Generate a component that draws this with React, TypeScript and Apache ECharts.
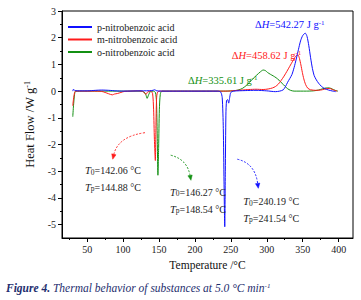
import { useEffect, useRef } from 'react';
import * as echarts from 'echarts';

type Pt = [number, number];

const FONT = 'Liberation Serif, Times New Roman, serif';

const seriesNames = ['p-nitrobenzoic acid', 'm-nitrobenzoic acid', 'o-nitrobenzoic acid'];
const seriesColors = ['#1010ff', '#ff1a1a', '#139013'];

// Temperature (°C), heat flow (W/g)
const pNitro: Pt[] = [
  [30, 0.0], [31, 0.07], [32.5, 0.03], [36, 0.01], [50, 0.01], [62, 0.03], [70, 0.04], [80, 0.03],
  [90, 0.01], [100, 0.0], [125, 0.01], [140, 0.02], [144, 0.05], [147, 0.01], [160, 0.0], [200, 0.0],
  [232, 0.0], [236, -0.04], [238, -0.25], [239.5, -1.4], [240.5, -3.4], [241.5, -5.08], [242.3, -3.0],
  [243.1, -0.9], [244, -0.35], [245.5, -0.32], [247, -0.45], [248.5, -0.22], [250, -0.05], [254, 0.0],
  [270, 0.02], [285, 0.03], [300, 0.01], [312, -0.02], [318, 0.0], [323, 0.05], [326, 0.17], [329, 0.33],
  [332, 0.47], [335, 0.62], [338, 0.88], [341, 1.2], [344, 1.55], [347, 1.88], [350, 2.08], [353.5, 2.17],
  [356, 2.05], [358.5, 1.7], [361, 1.25], [363.5, 0.85], [366, 0.58], [369, 0.42], [372, 0.3], [376, 0.18],
  [380, 0.1], [386, 0.04], [392, 0.0], [396, -0.02],
];

const mNitro: Pt[] = [
  [30, -0.55], [31, -0.3], [32.5, -0.06], [34, 0.0], [45, 0.0], [60, 0.0], [70, -0.01], [75, -0.05],
  [80, -0.1], [85, -0.14], [88, -0.11], [92, -0.09], [97, -0.05], [102, -0.01], [110, 0.0], [120, 0.01],
  [127, -0.01], [130, -0.08], [132, -0.12], [134, -0.04], [138, 0.0], [141, -0.08], [142.5, -0.7],
  [143.6, -1.8], [144.9, -2.6], [145.7, -1.4], [146.6, -0.3], [148, -0.04], [152, 0.0], [200, 0.0],
  [245, 0.0], [255, 0.02], [265, 0.04], [275, 0.06], [285, 0.07], [295, 0.06], [302, 0.08], [308, 0.12],
  [312, 0.17], [316, 0.26], [320, 0.4], [324, 0.56], [328, 0.74], [332, 0.93], [336, 1.12], [339, 1.26],
  [341.5, 1.34], [343.5, 1.35], [345.5, 1.22], [347.5, 0.98], [349.5, 0.7], [351.5, 0.46], [354, 0.25],
  [357, 0.11], [361, 0.05], [368, 0.03], [375, 0.04], [380, 0.07], [385, 0.1], [389, 0.09], [393, 0.04],
  [398, 0.0],
];

const oNitro: Pt[] = [
  [30, -0.96], [31, -0.55], [32.5, -0.12], [34, 0.0], [60, 0.0], [100, 0.0], [125, 0.0], [129, -0.03],
  [131.5, -0.12], [133.5, -0.27], [135.5, -0.14], [138, -0.02], [142, 0.0], [145, -0.05], [146.5, -0.4],
  [147.5, -1.6], [148.5, -3.15], [149.5, -2.1], [150.5, -0.7], [151.8, -0.12], [154, 0.0], [200, 0.0],
  [240, 0.0], [252, 0.01], [260, 0.04], [266, 0.1], [271, 0.2], [276, 0.33], [281, 0.47], [286, 0.6],
  [291, 0.72], [295, 0.79], [298, 0.77], [301, 0.7], [305, 0.63], [309, 0.57], [313, 0.5], [317, 0.41],
  [321, 0.3], [325, 0.19], [329, 0.09], [333, 0.03], [338, 0.0], [355, 0.0], [365, 0.01], [372, 0.04],
  [378, 0.09], [383, 0.12], [387, 0.12], [391, 0.08], [395, 0.03], [399, 0.0],
];

const seriesData = [pNitro, mNitro, oNitro];

const xMajorTicks = [50, 100, 150, 200, 250, 300, 350, 400];
const xMinorTicks = [25, 75, 125, 175, 225, 275, 325, 375];
const yMajorTicks = [-5, -4, -3, -2, -1, 0, 1, 2, 3];
const yMinorTicks = [-4.5, -3.5, -2.5, -1.5, -0.5, 0.5, 1.5, 2.5];

const enthalpies = ['542.27', '458.62', '335.61'];
const onsetTemps = ['240.19', '142.06', '146.27'];
const peakTemps = ['241.54', '144.88', '148.54'];

// Annotation anchors (data coordinates)
const dhLabelAt: Pt[] = [[283.6, 2.48], [251.2, 1.35], [190.4, 0.41]];
const tempLabelAt: Pt[] = [[267.3, -4.14], [47, -2.98], [165.3, -3.79]];
const arrowPaths: { from: Pt; ctrl: Pt; to: Pt }[] = [
  { from: [259, -2.55], ctrl: [283.6, -2.7], to: [288.2, -3.64] },
  { from: [130.5, -1.556], ctrl: [93, -1.7], to: [85.6, -2.55] },
  { from: [166.3, -2.4], ctrl: [189, -2.55], to: [194.5, -3.34] },
];

const X_MIN = 15;
const X_MAX = 420;
const Y_MIN = -5.5;
const Y_MAX = 3;

export default function App() {
  const ref = useRef<HTMLDivElement>(null);

  useEffect(() => {
    if (!ref.current) return;
    const chart = echarts.init(ref.current, null, { renderer: 'svg' });

    const axisBase = {
      type: 'value' as const,
      splitLine: { show: false },
    };

    chart.setOption({
      animation: false,
      backgroundColor: '#ffffff',
      textStyle: { fontFamily: FONT },
      grid: {
        left: 62, right: 8, top: 11, bottom: 62,
        show: true, borderColor: '#000', borderWidth: 1, backgroundColor: 'transparent',
      },
      legend: {
        data: seriesNames,
        orient: 'vertical',
        left: 68,
        top: 21,
        padding: 0,
        itemWidth: 24,
        itemHeight: 2,
        itemGap: 0.5,
        icon: 'rect',
        textStyle: { fontSize: 10, color: '#222', fontFamily: FONT, lineHeight: 12 },
      },
      xAxis: [
        {
          ...axisBase,
          min: X_MIN, max: X_MAX, position: 'bottom',
          name: 'Temperature /°C', nameLocation: 'middle', nameGap: 21,
          nameTextStyle: { fontSize: 11.5, color: '#111', fontFamily: FONT },
          axisLine: { onZero: false, lineStyle: { color: '#000', width: 1 } },
          axisTick: { customValues: xMajorTicks, length: 4, lineStyle: { color: '#000' } },
          axisLabel: { customValues: xMajorTicks, fontSize: 10, color: '#222', margin: 6, fontFamily: FONT },
        },
        {
          ...axisBase,
          min: X_MIN, max: X_MAX, position: 'bottom',
          axisLine: { show: false, onZero: false },
          axisTick: { customValues: xMinorTicks, length: 2, lineStyle: { color: '#000' } },
          axisLabel: { show: false },
        },
      ],
      yAxis: [
        {
          ...axisBase,
          min: Y_MIN, max: Y_MAX, position: 'left',
          name: 'Heat Flow /W g{sup|-1}', nameLocation: 'middle', nameGap: 20, nameRotate: 90,
          nameTextStyle: {
            fontSize: 12.5, color: '#111', fontFamily: FONT,
            rich: { sup: { fontSize: 8, verticalAlign: 'top', color: '#111', fontFamily: FONT } },
          },
          axisLine: { onZero: false, lineStyle: { color: '#000', width: 1 } },
          axisTick: { customValues: yMajorTicks, length: 4, lineStyle: { color: '#000' } },
          axisLabel: { customValues: yMajorTicks, fontSize: 10, color: '#222', margin: 6, fontFamily: FONT },
        },
        {
          ...axisBase,
          min: Y_MIN, max: Y_MAX, position: 'left',
          axisLine: { show: false, onZero: false },
          axisTick: { customValues: yMinorTicks, length: 2, lineStyle: { color: '#000' } },
          axisLabel: { show: false },
        },
      ],
      series: seriesData.map((d, i) => ({
        name: seriesNames[i],
        type: 'line',
        xAxisIndex: 0,
        yAxisIndex: 0,
        data: d,
        showSymbol: false,
        smooth: 0.25,
        z: 3 - i,
        color: seriesColors[i],
        lineStyle: { width: 1, color: seriesColors[i] },
      })),
    });

    const px = (p: Pt): Pt => chart.convertToPixel({ seriesIndex: 0 }, p) as Pt;

    const elements: any[] = [];

    // ΔH labels
    dhLabelAt.forEach((p, i) => {
      const [x, y] = px(p);
      const c = seriesColors[i];
      elements.push({
        type: 'text', x, y, z: 10,
        style: {
          text: `Δ{i|H}=${enthalpies[i]} J g{sup|-1}`,
          fill: c, fontSize: 10.5, fontFamily: FONT,
          verticalAlign: 'middle', align: 'left',
          rich: {
            i: { fontStyle: 'italic', fontSize: 10.5, fontFamily: FONT, fill: c },
            sup: { fontSize: 7, verticalAlign: 'top', fontFamily: FONT, fill: c },
          },
        },
      });
    });

    // Onset / peak temperature labels
    tempLabelAt.forEach((p, i) => {
      const [x, y] = px(p);
      const rich = {
        i: { fontStyle: 'italic', fontSize: 10.5, fontFamily: FONT, fill: '#222' },
        sub: { fontSize: 7.5, verticalAlign: 'bottom', fontFamily: FONT, fill: '#222' },
      };
      elements.push({
        type: 'text', x, y, z: 10,
        style: {
          text: `{i|T}{sub|0}=${onsetTemps[i]} °C`, fill: '#222', fontSize: 10, fontFamily: FONT,
          verticalAlign: 'middle', align: 'left', rich,
        },
      });
      elements.push({
        type: 'text', x, y: y + 16.7, z: 10,
        style: {
          text: `{i|T}{sub|p}=${peakTemps[i]} °C`, fill: '#222', fontSize: 10, fontFamily: FONT,
          verticalAlign: 'middle', align: 'left', rich,
        },
      });
    });

    // Dashed curved arrows
    arrowPaths.forEach((a, i) => {
      const [x1, y1] = px(a.from);
      const [cx, cy] = px(a.ctrl);
      const [x2, y2] = px(a.to);
      const c = seriesColors[i];
      const dx = x2 - cx;
      const dy = y2 - cy;
      const len = Math.hypot(dx, dy) || 1;
      const ux = dx / len;
      const uy = dy / len;
      const head = 5;
      const half = 2.2;
      const bx = x2 - ux * head;
      const by = y2 - uy * head;
      elements.push({
        type: 'bezierCurve', z: 10,
        shape: { x1, y1, x2: bx, y2: by, cpx1: cx, cpy1: cy },
        style: { stroke: c, lineWidth: 0.9, lineDash: [2, 1.5], fill: null },
      });
      elements.push({
        type: 'polygon', z: 10,
        shape: { points: [[x2, y2], [bx - uy * half, by + ux * half], [bx + uy * half, by - ux * half]] },
        style: { fill: c, stroke: c, lineWidth: 0.5 },
      });
    });

    // Figure caption
    elements.push({
      type: 'text', x: 6, y: 288, z: 10,
      style: {
        text: '{b|Figure 4.} {i|Thermal behavior of substances at 5.0 °C min}{sup|-1}',
        fill: '#1e2e6e', fontSize: 11.5, fontFamily: FONT,
        verticalAlign: 'middle', align: 'left',
        rich: {
          b: { fontStyle: 'italic', fontWeight: 'bold', fontSize: 11.5, fontFamily: FONT, fill: '#1e2e6e' },
          i: { fontStyle: 'italic', fontSize: 11.5, fontFamily: FONT, fill: '#1e2e6e' },
          sup: { fontStyle: 'italic', fontSize: 7, verticalAlign: 'top', fontFamily: FONT, fill: '#1e2e6e' },
        },
      },
    });

    chart.setOption({ graphic: { elements } });

    return () => chart.dispose();
  }, []);

  return (
    <div
      ref={ref}
      style={{ position: 'fixed', left: 0, top: 0, width: 361, height: 300, background: '#fff' }}
    />
  );
}
